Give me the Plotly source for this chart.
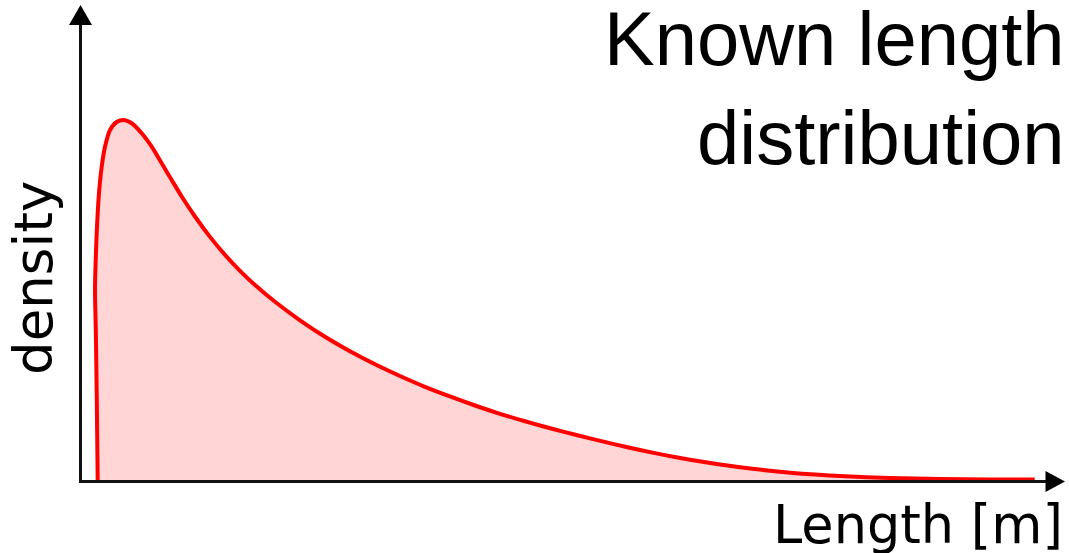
import plotly.graph_objects as go

# Curve (length in arbitrary units, density normalised to peak = 1)
length = [0.1748, 0.1657, 0.1555, 0.1474, 0.1545, 0.1677, 0.1880, 0.2154, 0.2490, 0.3003,
          0.3679, 0.4350, 0.5203, 0.6220, 0.7236, 0.8252, 0.9268, 1.0285, 1.1636, 1.3161,
          1.4685, 1.6209, 1.7734, 1.9766, 2.2307, 2.4848, 2.7388, 2.9929, 3.2470, 3.5010,
          3.7551, 4.0091, 4.2632, 4.5173, 4.6697, 4.9238, 5.1778, 5.4319, 5.6860, 5.9400,
          6.1941, 6.4482, 6.7022, 6.9563, 7.2104, 7.4644, 7.7185, 8.2266, 8.7348, 9.2429,
          9.6972]
density = [0.0, 0.2244, 0.4183, 0.5291, 0.6122, 0.7044, 0.7978, 0.8707, 0.9260, 0.9723,
           0.9945, 1.0, 0.9909, 0.9632, 0.9260, 0.8800, 0.8338, 0.7881, 0.7327, 0.6762,
           0.6263, 0.5823, 0.5429, 0.4964, 0.4452, 0.3994, 0.3593, 0.3233, 0.2909, 0.2609,
           0.2341, 0.2091, 0.1861, 0.1654, 0.1537, 0.1355, 0.1180, 0.1014, 0.0859, 0.0717,
           0.0590, 0.0479, 0.0382, 0.0299, 0.0230, 0.0177, 0.0139, 0.0083, 0.0055, 0.0042,
           0.0039]

title_text = "Known length<br>distribution"
x_label = "Length [m]"
y_label = "density"

W, H = 1069, 553

def px(x):
    return x / W

def py(y):
    return 1 - y / H

fig = go.Figure()
fig.add_trace(go.Scatter(
    x=length, y=density, mode="lines",
    line=dict(color="#ff0000", width=4, shape="spline", smoothing=0.8),
    fill="tozeroy", fillcolor="rgb(255,213,213)",
    hoverinfo="skip", showlegend=False,
))

axis_color = "#111111"
shapes = [
    dict(type="line", xref="paper", yref="paper", x0=px(80.5), x1=px(80.5),
         y0=py(483), y1=py(22), line=dict(color=axis_color, width=3)),
    dict(type="line", xref="paper", yref="paper", x0=px(79), x1=px(1048),
         y0=py(481.5), y1=py(481.5), line=dict(color=axis_color, width=3)),
    dict(type="path", xref="paper", yref="paper",
         path=f"M {px(80.5)} {py(5)} L {px(69)} {py(25)} L {px(92)} {py(25)} Z",
         fillcolor="black", line=dict(width=0)),
    dict(type="path", xref="paper", yref="paper",
         path=f"M {px(1065)} {py(481.5)} L {px(1045.5)} {py(471)} L {px(1045.5)} {py(492)} Z",
         fillcolor="black", line=dict(width=0)),
]

annotations = [
    dict(text=title_text, xref="paper", yref="paper", x=px(1067), y=py(-6),
         xanchor="right", yanchor="top", align="right", showarrow=False,
         font=dict(family="Liberation Sans", size=76, color="black")),
    dict(text=x_label, xref="paper", yref="paper", x=px(1065), y=py(524),
         xanchor="right", yanchor="middle", showarrow=False,
         font=dict(family="DejaVu Sans", size=52.5, color="black")),
    dict(text=y_label, xref="paper", yref="paper", x=px(33), y=py(278),
         xanchor="center", yanchor="middle", textangle=-90, showarrow=False,
         font=dict(family="DejaVu Sans", size=53, color="black")),
]

x0_px, xscale = 80.5, 98.4
y0_px, yscale = 481.0, 361.0
xa = -x0_px / xscale
ya = -(H - y0_px) / yscale

fig.update_layout(
    width=W, height=H,
    margin=dict(l=0, r=0, t=0, b=0),
    paper_bgcolor="white", plot_bgcolor="white",
    xaxis=dict(range=[xa, xa + W / xscale], visible=False, fixedrange=True),
    yaxis=dict(range=[ya, ya + H / yscale], visible=False, fixedrange=True),
    shapes=shapes, annotations=annotations,
)

post = ("document.body.style.margin='0';document.body.style.padding='0';"
        "document.documentElement.style.overflow='hidden';"
        "document.body.style.overflow='hidden';")
fig.write_html("out.html", config={"displayModeBar": False}, post_script=post)
